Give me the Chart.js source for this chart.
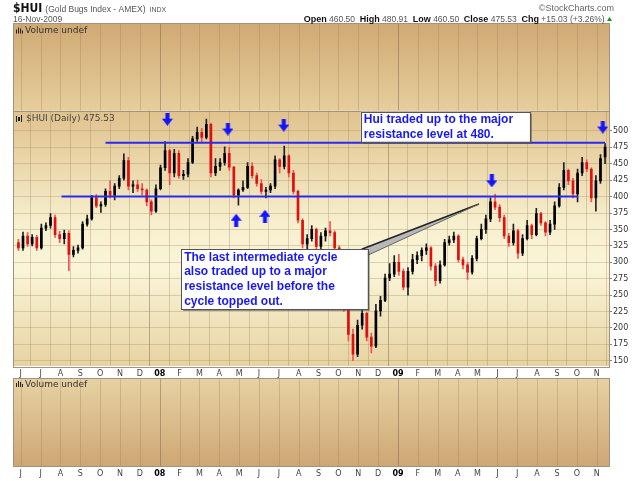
<!DOCTYPE html>
<html>
<head>
<meta charset="utf-8">
<title>$HUI</title>
<script src="https://cdn.jsdelivr.net/npm/chart.js@4.4.1/dist/chart.umd.min.js"></script>
<style>
  html, body { margin: 0; padding: 0; background: #ffffff; }
  canvas { display: block; }
</style>
</head>
<body>
<canvas id="huiChart" width="640" height="481"></canvas>
<script>
// weekly candles; bar 0 = week of 1 Jun 2007
const firstWeek = -1;

const weekOpen = [
    330, 322, 340, 328, 338, 322, 352, 356, 368, 342,
    336, 344, 312, 318, 322, 358, 366, 398, 386, 388,
    408, 402, 416, 428, 455, 416, 418, 412, 410, 392,
    378, 412, 444, 470, 436, 466, 432, 434, 452, 488,
    498, 490, 510, 436, 446, 452, 466, 445, 402, 410,
    414, 446, 432, 420, 408, 410, 416, 456, 446, 462,
    436, 408, 364, 328, 336, 350, 324, 340, 348, 345,
    322, 272, 232, 190, 160, 204, 222, 186, 172, 226,
    242, 276, 282, 300, 286, 262, 286, 304, 310, 318,
    322, 294, 272, 296, 330, 334, 340, 304, 296, 285,
    306, 336, 350, 366, 392, 384, 368, 340, 330, 348,
    314, 336, 356, 342, 374, 360, 346, 358, 386, 414,
    440, 424, 404, 436, 452, 442, 398, 424, 460.5
];

const weekHigh = [
    335, 346, 345, 342, 341, 358, 360, 374, 372, 347,
    349, 348, 324, 326, 362, 372, 402, 403, 392, 412,
    424, 420, 432, 465, 460, 424, 425, 420, 412, 395,
    418, 448, 484, 472, 472, 470, 440, 458, 492, 506,
    504, 518, 512, 458, 458, 476, 475, 446, 412, 424,
    452, 452, 436, 426, 414, 420, 462, 458, 477, 464,
    440, 410, 366, 342, 356, 352, 345, 352, 362, 348,
    325, 278, 240, 198, 212, 230, 224, 192, 236, 248,
    282, 298, 310, 312, 290, 292, 312, 316, 322, 328,
    324, 298, 302, 335, 340, 346, 342, 308, 300, 310,
    340, 358, 372, 398, 404, 388, 372, 344, 358, 350,
    342, 364, 358, 382, 376, 362, 364, 392, 420, 452,
    442, 428, 442, 460, 456, 444, 432, 464, 480.91
];

const weekLow = [
    318, 318, 324, 325, 318, 320, 348, 352, 338, 330,
    328, 287, 308, 314, 320, 355, 364, 383, 376, 385,
    398, 395, 412, 425, 410, 406, 408, 402, 386, 372,
    376, 410, 440, 418, 430, 428, 426, 430, 450, 484,
    482, 488, 430, 432, 440, 448, 440, 398, 387, 408,
    412, 428, 416, 404, 398, 406, 412, 436, 442, 430,
    404, 360, 322, 320, 332, 318, 318, 332, 340, 318,
    268, 225, 180, 150, 156, 198, 180, 162, 170, 218,
    240, 272, 278, 280, 258, 250, 282, 298, 302, 312,
    288, 264, 268, 294, 326, 330, 300, 290, 274, 282,
    302, 334, 344, 362, 380, 362, 336, 324, 326, 306,
    310, 334, 336, 340, 356, 340, 342, 350, 384, 410,
    418, 398, 392, 432, 438, 392, 378, 420, 450
];

const weekClose = [
    322, 340, 328, 338, 322, 352, 356, 368, 342, 336,
    344, 312, 318, 322, 358, 366, 398, 386, 388, 408,
    402, 416, 428, 455, 416, 418, 412, 410, 392, 378,
    412, 444, 470, 436, 466, 432, 434, 452, 488, 498,
    490, 510, 436, 446, 452, 466, 445, 402, 410, 414,
    446, 432, 420, 408, 410, 416, 456, 446, 462, 436,
    408, 364, 328, 336, 350, 324, 340, 348, 345, 322,
    272, 232, 190, 160, 204, 222, 186, 172, 226, 242,
    276, 282, 300, 286, 262, 286, 304, 310, 318, 322,
    294, 272, 296, 330, 334, 340, 304, 296, 285, 306,
    336, 350, 366, 392, 384, 368, 340, 330, 348, 314,
    336, 356, 342, 374, 360, 346, 358, 386, 414, 440,
    424, 404, 436, 452, 442, 398, 424, 458, 475.53
];

const monthLabels = [
    "J", "J", "A", "S", "O", "N", "D", "08", "F", "M", "A", "M",
    "J", "J", "A", "S", "O", "N", "D", "09", "F", "M", "A", "M",
    "J", "J", "A", "S", "O", "N"
];

const priceTicks = [150, 175, 200, 225, 250, 275, 300, 325, 350, 375, 400, 425, 450, 475, 500];

// resistance lines (price level, first week, last week)
const resistanceLevel = [482, 400];
const resistanceFrom = [18, 8.4];
const resistanceTo = [127, 121.1];

// blue markers placed on the chart
const downArrowWeek = [31.5, 44.7, 56.9, 102.3, 126.5];
const downArrowPrice = [518, 503, 509, 424, 506];
const upArrowWeek = [46.5, 52.8];
const upArrowPrice = [364, 370];


const weeks = weekOpen.map((_, i) => firstWeek + i);

const UP = "#000000";
const DOWN = "#e01010";

Chart.defaults.font.family = '"DejaVu Sans", sans-serif';


function makeArrow(up) {

    const c = document.createElement("canvas");
    c.width = 11;
    c.height = 13;

    const g = c.getContext("2d");

    if (up) {
        g.translate(0, 13);
        g.scale(1, -1);
    }

    g.fillStyle = "#1414ff";
    g.beginPath();
    g.moveTo(3.5, 0);
    g.lineTo(7.5, 0);
    g.lineTo(7.5, 6);
    g.lineTo(11, 6);
    g.lineTo(5.5, 13);
    g.lineTo(0, 6);
    g.lineTo(3.5, 6);
    g.closePath();
    g.fill();

    return c;
}


function fillPanel(ctx, left, top, right, bottom, stops) {

    const grad = ctx.createLinearGradient(0, top, 0, bottom);

    stops.forEach(s => grad.addColorStop(s[0], s[1]));

    ctx.fillStyle = grad;
    ctx.fillRect(left, top, right - left, bottom - top);
}


function monthLines(ctx, xs, top, bottom) {

    xs.ticks.forEach((t, i) => {

        const px = Math.round(xs.getPixelForValue(t.value)) + 0.5;

        ctx.strokeStyle = monthLabels[i].length === 2
            ? "rgba(120, 95, 70, 0.45)"
            : "rgba(150, 120, 85, 0.3)";

        ctx.lineWidth = 1;
        ctx.beginPath();
        ctx.moveTo(px, top);
        ctx.lineTo(px, bottom);
        ctx.stroke();
    });
}


function volumeLabel(ctx, x, y) {

    ctx.fillStyle = "#222";
    ctx.fillRect(x, y - 1, 1, 4);
    ctx.fillRect(x + 2, y - 3, 1, 6);
    ctx.fillRect(x + 4, y - 2, 1, 5);
    ctx.fillRect(x + 6, y, 1, 3);

    ctx.font = '9px "DejaVu Sans", sans-serif';
    ctx.textAlign = "left";
    ctx.textBaseline = "middle";
    ctx.fillStyle = "#333";
    ctx.fillText("Volume undef", x + 9, y + 0.5);
}


function drawHeader(ctx) {

    ctx.textBaseline = "alphabetic";
    ctx.textAlign = "left";

    ctx.fillStyle = "#111";
    ctx.font = 'bold 12px "Liberation Sans Narrow", "DejaVu Sans Condensed", sans-serif';
    ctx.fillText("$HUI", 13, 12);

    let x = 13 + ctx.measureText("$HUI").width + 3;

    ctx.fillStyle = "#555";
    ctx.font = '8.5px "Liberation Sans", sans-serif';
    ctx.fillText("(Gold Bugs Index - AMEX)", x, 12);

    x += ctx.measureText("(Gold Bugs Index - AMEX)").width + 4;

    ctx.font = '7px "Liberation Sans", sans-serif';
    ctx.fillText("INDX", x, 12);

    ctx.font = '8.5px "Liberation Sans", sans-serif';
    ctx.fillText("16-Nov-2009", 13, 21.5);

    ctx.textAlign = "right";
    ctx.fillStyle = "#666";
    ctx.font = '9px "Liberation Sans", sans-serif';
    ctx.fillText("\u00a9StockCharts.com", 614, 11);

    // quote line, right aligned
    const parts = [
        ["Open", true], [" 460.50  ", false],
        ["High", true], [" 480.91  ", false],
        ["Low", true], [" 460.50  ", false],
        ["Close", true], [" 475.53  ", false],
        ["Chg", true], [" +15.03 (+3.26%) ", false]
    ];

    const boldFont = 'bold 9px "Liberation Sans", sans-serif';
    const plainFont = '8.5px "Liberation Sans", sans-serif';

    let total = 0;

    parts.forEach(p => {
        ctx.font = p[1] ? boldFont : plainFont;
        total += ctx.measureText(p[0]).width;
    });

    ctx.textAlign = "left";
    x = 607 - total;

    parts.forEach(p => {
        ctx.font = p[1] ? boldFont : plainFont;
        ctx.fillStyle = p[1] ? "#111" : "#555";
        ctx.fillText(p[0], x, 22);
        x += ctx.measureText(p[0]).width;
    });

    ctx.fillStyle = "#119911";
    ctx.beginPath();
    ctx.moveTo(x, 21);
    ctx.lineTo(x + 5, 21);
    ctx.lineTo(x + 2.5, 17);
    ctx.closePath();
    ctx.fill();
}


function noteBox(chart, left, top, right, bottom, lines) {

    const ctx = chart.ctx;
    const xs = chart.scales.x;
    const ys = chart.scales.y;

    const x0 = xs.getPixelForValue(left);
    const x1 = xs.getPixelForValue(right);
    const y0 = ys.getPixelForValue(top);
    const y1 = ys.getPixelForValue(bottom);

    ctx.fillStyle = "rgba(70, 70, 70, 0.55)";
    ctx.fillRect(x0 + 2, y0 + 2, x1 - x0, y1 - y0);

    ctx.fillStyle = "#ffffff";
    ctx.fillRect(x0, y0, x1 - x0, y1 - y0);

    ctx.strokeStyle = "#555";
    ctx.lineWidth = 1;
    ctx.strokeRect(Math.round(x0) + 0.5, Math.round(y0) + 0.5, Math.round(x1 - x0), Math.round(y1 - y0));

    ctx.fillStyle = "#1a1aee";
    ctx.font = 'bold 12px "Liberation Sans", sans-serif';
    ctx.textAlign = "left";
    ctx.textBaseline = "middle";

    lines.forEach((line, i) => {
        ctx.fillText(line, x0 + 3, y0 + 8 + i * 14.8);
    });

    return { x0, y0, x1, y1 };
}


function drawPointer(chart, box, tipWeek, tipPrice) {

    const ctx = chart.ctx;
    const tx = chart.scales.x.getPixelForValue(tipWeek);
    const ty = chart.scales.y.getPixelForValue(tipPrice);

    ctx.fillStyle = "#b8b8b8";
    ctx.beginPath();
    ctx.moveTo(box.x1 - 6, box.y0);
    ctx.lineTo(tx, ty);
    ctx.lineTo(box.x1, box.y0 + 6);
    ctx.closePath();
    ctx.fill();

    ctx.strokeStyle = "#222";
    ctx.lineWidth = 1.5;
    ctx.beginPath();
    ctx.moveTo(box.x1 - 6, box.y0);
    ctx.lineTo(tx, ty);
    ctx.stroke();

    ctx.strokeStyle = "#666";
    ctx.lineWidth = 1;
    ctx.beginPath();
    ctx.moveTo(box.x1, box.y0 + 6);
    ctx.lineTo(tx, ty);
    ctx.stroke();
}


const framePlugin = {

    id: "frame",

    beforeDraw(chart) {

        const ctx = chart.ctx;
        const area = chart.chartArea;
        const xs = chart.scales.x;

        ctx.save();

        ctx.fillStyle = "#ffffff";
        ctx.fillRect(0, 0, chart.width, chart.height);

        fillPanel(ctx, area.left, 23.3, area.right, area.top,
            [[0, "#d0a973"], [1, "#e6ce9c"]]);

        fillPanel(ctx, area.left, area.top, area.right, area.bottom,
            [[0, "#e0c28d"], [0.45, "#f7f0cf"], [0.62, "#faf5d9"], [1, "#e7d3a2"]]);

        fillPanel(ctx, area.left, 378, area.right, 467,
            [[0, "#e7d2a3"], [1, "#cea674"]]);

        monthLines(ctx, xs, 23.3, area.top);
        monthLines(ctx, xs, 378, 467);

        ctx.restore();
    },

    afterDraw(chart) {

        const ctx = chart.ctx;
        const area = chart.chartArea;
        const xs = chart.scales.x;

        ctx.save();

        // panel borders
        ctx.strokeStyle = "#a39281";
        ctx.lineWidth = 1;
        ctx.strokeRect(Math.round(area.left) + 0.5, 23.5, Math.round(area.right - area.left), Math.round(area.top) - 23);
        ctx.strokeRect(Math.round(area.left) + 0.5, Math.round(area.top) + 0.5, Math.round(area.right - area.left), Math.round(area.bottom - area.top));
        ctx.strokeRect(Math.round(area.left) + 0.5, 378.5, Math.round(area.right - area.left), 88);

        drawHeader(ctx);

        volumeLabel(ctx, 16, 30.5);
        volumeLabel(ctx, 16, 384);

        // price panel label
        ctx.fillStyle = "#222";
        ctx.fillRect(16, 116, 1, 6);
        ctx.fillRect(18, 117, 2, 4);
        ctx.fillRect(21, 115, 1, 7);
        ctx.font = '9px "DejaVu Sans", sans-serif';
        ctx.textAlign = "left";
        ctx.textBaseline = "middle";
        ctx.fillStyle = "#444";
        ctx.fillText("$HUI (Daily) 475.53", 26, 119);

        // month labels under the lower volume panel
        ctx.textAlign = "center";
        xs.ticks.forEach((t, i) => {
            const year = monthLabels[i].length === 2;
            ctx.font = (year ? "bold " : "") + '8px "DejaVu Sans", sans-serif';
            ctx.fillStyle = year ? "#000" : "#444";
            ctx.fillText(monthLabels[i], xs.getPixelForValue(t.value), 474);
        });

        // comments
        noteBox(chart, 73.7, 529.4, 110.6, 483.7,
            ["Hui traded up to the major", "resistance level at 480."]);

        const ys = chart.scales.y;
        const box2 = {
            x1: xs.getPixelForValue(75.2),
            y0: ys.getPixelForValue(319.7)
        };
        drawPointer(chart, box2, 99.5, 388.8);

        noteBox(chart, 34.5, 319.7, 75.2, 228.8,
            ["The last intermediate cycle", "also traded up to a major",
             "resistance level before the", "cycle topped out."]);

        ctx.restore();
    }
};


const candleColors = weekOpen.map((o, i) => weekClose[i] >= o ? UP : DOWN);
const wickColors = weekOpen.map((o, i) => weekClose[i] >= o ? "#222222" : "#ee5555");

const datasets = [

    {
        type: "bar",
        data: weeks.map((w, i) => ({ x: w, y: [weekLow[i], weekHigh[i]] })),
        backgroundColor: wickColors,
        barThickness: 1,
        grouped: false,
        order: 5
    },

    {
        type: "bar",
        data: weeks.map((w, i) => ({ x: w, y: [weekOpen[i], weekClose[i]] })),
        backgroundColor: candleColors,
        barThickness: 2,
        minBarLength: 1,
        grouped: false,
        order: 4
    }
];

resistanceLevel.forEach((lvl, i) => {

    datasets.push({
        type: "line",
        data: [{ x: resistanceFrom[i], y: lvl }, { x: resistanceTo[i], y: lvl }],
        borderColor: "#2a2af2",
        borderWidth: 2,
        pointRadius: 0,
        order: 3
    });
});

datasets.push({
    type: "scatter",
    data: downArrowWeek.map((w, i) => ({ x: w, y: downArrowPrice[i] })),
    pointStyle: makeArrow(false),
    pointRadius: 6,
    order: 1
});

datasets.push({
    type: "scatter",
    data: upArrowWeek.map((w, i) => ({ x: w, y: upArrowPrice[i] })),
    pointStyle: makeArrow(true),
    pointRadius: 6,
    order: 1
});


new Chart(
    document.getElementById("huiChart"),
    {
        type: "bar",

        data: { datasets: datasets },

        plugins: [framePlugin],

        options: {

            responsive: false,
            animation: false,

            layout: {
                padding: { left: 13.3, top: 110.5, right: 0, bottom: 0 }
            },

            plugins: {
                legend: { display: false },
                tooltip: { enabled: false }
            },

            scales: {

                x: {
                    type: "linear",
                    offset: false,
                    min: -2.12,
                    max: 127.86,
                    afterFit: scale => { scale.height = 115; },
                    afterBuildTicks: scale => {
                        scale.ticks = monthLabels.map((_, m) => ({ value: -0.5 + m * 52 / 12 }));
                    },
                    border: { display: false },
                    grid: {
                        drawTicks: false,
                        color: ctx => monthLabels[ctx.index] && monthLabels[ctx.index].length === 2
                            ? "rgba(120, 95, 70, 0.45)"
                            : "rgba(150, 120, 85, 0.3)"
                    },
                    ticks: {
                        autoSkip: false,
                        maxRotation: 0,
                        padding: 3,
                        callback: (v, i) => monthLabels[i],
                        color: ctx => monthLabels[ctx.index] && monthLabels[ctx.index].length === 2 ? "#000" : "#444",
                        font: ctx => ({
                            size: 8,
                            weight: monthLabels[ctx.index] && monthLabels[ctx.index].length === 2 ? "bold" : "normal"
                        })
                    }
                },

                y: {
                    position: "right",
                    min: 141.9,
                    max: 531.2,
                    afterFit: scale => { scale.width = 31; },
                    afterBuildTicks: scale => {
                        scale.ticks = priceTicks.map(v => ({ value: v }));
                    },
                    border: { display: false },
                    grid: {
                        color: "rgba(170, 140, 95, 0.35)",
                        tickColor: "#888",
                        tickLength: 3
                    },
                    ticks: {
                        padding: 1,
                        color: "#333",
                        font: { size: 8 }
                    }
                }
            }
        }
    }
);
</script>
</body>
</html>
